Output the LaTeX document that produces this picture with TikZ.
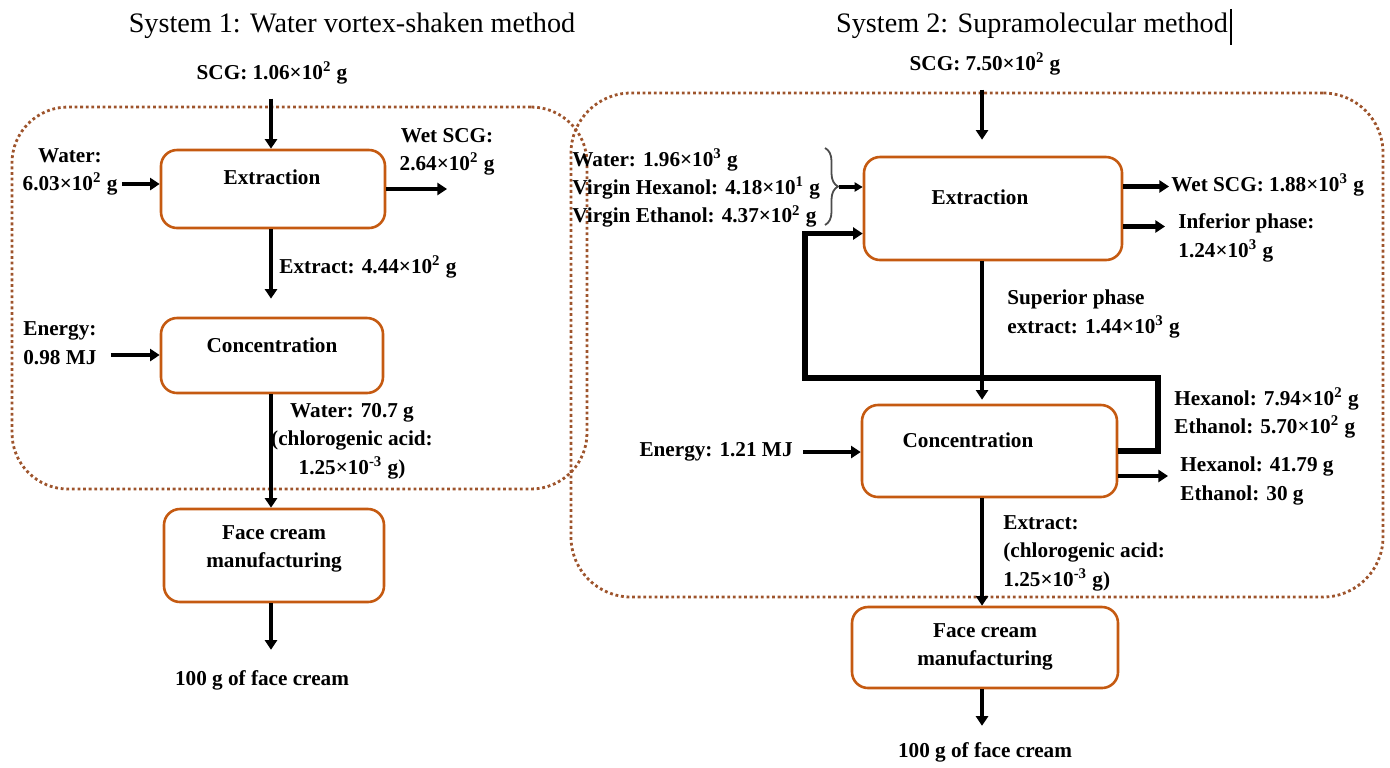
\documentclass[tikz,border=0pt]{standalone}
\usepackage{fontspec}
\setmainfont{Liberation Serif}
\usetikzlibrary{arrows.meta,fit,calc,decorations.pathreplacing}
\definecolor{procor}{RGB}{197,90,17}
\definecolor{dotbr}{RGB}{158,84,44}
\begin{document}
\begin{tikzpicture}[x=0.5pt,y=-0.5pt,
 lab/.style={font=\bfseries\fontsize{10.6}{14.2}\selectfont, inner sep=0pt},
 ttl/.style={font=\fontsize{14.1}{16}\selectfont, inner sep=0pt},
 proc/.style={draw=procor, line width=1.3pt, rounded corners=8pt, inner sep=0pt},
 sys/.style={draw=dotbr, line width=1.4pt, dash pattern=on 1.4pt off 1.4pt, inner sep=0pt},
 flow/.style={line width=2.4pt, -{Triangle[length=4.8pt,width=6pt]}},
 thinflow/.style={line width=1.6pt, -{Triangle[length=4pt,width=4.5pt]}},
 loopline/.style={line width=2.6pt, -{Triangle[length=4.8pt,width=6pt]}},
 bracestyle/.style={draw=gray!60!black, line width=0.9pt, decorate, decoration={brace, amplitude=6.5pt}},
]
\useasboundingbox (0,0) rectangle (1390,767);

% ---------- System 1 ----------
\node[ttl] (title1) at (352,26) {System 1: Water vortex-shaken method};
\node[lab] (scg1) at (272,73) {SCG: 1.06×10\textsuperscript{2} g};
\node[sys, rounded corners=28pt, fit={(12,107)(587,489)}] (sys1) {};
\node[proc, fit={(161,150)(385,228)}] (ext1) {};
\node[lab] (ext1t) at (272,177) {Extraction};
\node[lab, align=center] (water1) at (70,172) {Water:\\6.03×10\textsuperscript{2} g};
\node[lab, align=center] (wet1) at (447,152) {Wet SCG:\\2.64×10\textsuperscript{2} g};
\node[proc, fit={(161,318)(383,393)}] (con1) {};
\node[lab] (con1t) at (272,345) {Concentration};
\node[lab] (extr1) at (368,267) {Extract: 4.44×10\textsuperscript{2} g};
\node[lab, align=left, anchor=west] (en1) at (23,343) {Energy:\\0.98 MJ};
\node[lab, align=center] (wat2) at (352,441) {Water: 70.7 g\\(chlorogenic acid:\\1.25×10\textsuperscript{-3} g)};
\node[proc, fit={(164,509)(384,602)}] (fc1) {};
\node[lab, align=center] (fc1t) at (274,549) {Face cream\\manufacturing};
\node[lab] (out1) at (262,680) {100 g of face cream};

\coordinate (ax1) at (271,0);
\draw[flow] ([yshift=-7pt]scg1.south -| ax1) -- (ext1.north -| ax1);
\coordinate (w1) at ([shift={(2pt,-6pt)}]water1.east);
\draw[flow] (w1) -- (w1 -| ext1.west);
\draw[flow] (ext1.east) -- (ext1.east -| wet1);
\draw[flow, shorten >=9pt] (ext1.south -| ax1) -- (con1.north -| ax1);
\coordinate (e1) at ([shift={(7pt,-6pt)}]en1.east);
\draw[flow] (e1) -- (e1 -| con1.west);
\draw[flow] (con1.south -| ax1) -- (fc1.north -| ax1);
\draw[flow] (fc1.south -| ax1) -- ([yshift=10pt]out1.north -| ax1);

% ---------- System 2 ----------
\node[ttl] (title2) at (1032,26) {System 2: Supramolecular method};
\draw[line width=0.8pt] ([shift={(1.5pt,2pt)}]title2.north east) -- ([shift={(1.5pt,-3pt)}]title2.south east);
\node[lab] (scg2) at (985,64) {SCG: 7.50×10\textsuperscript{2} g};
\node[sys, rounded corners=30pt, fit={(571,93)(1383,597)}] (sys2) {};
\node[proc, fit={(864,157)(1122,260)}] (ext2) {};
\node[lab] (ext2t) at (980,197) {Extraction};
\node[lab, align=left, anchor=west] (in2) at (572,188) {Water: 1.96×10\textsuperscript{3} g\\Virgin Hexanol: 4.18×10\textsuperscript{1} g\\Virgin Ethanol: 4.37×10\textsuperscript{2} g};
\coordinate (brtop) at (825,148);
\coordinate (brbot) at (825,225);
\draw[bracestyle] (brtop) -- (brbot);
\coordinate (br) at (839,187);
\draw[thinflow] (br) -- (br -| ext2.west);

\node[proc, fit={(862,405)(1117,497)}] (con2) {};
\node[lab] (con2t) at (968,440) {Concentration};
\node[lab, anchor=west] (wet2) at (1171,185) {Wet SCG: 1.88×10\textsuperscript{3} g};
\node[lab, anchor=west, align=left] (inf2) at (1178,238) {Inferior phase:\\1.24×10\textsuperscript{3} g};
\node[lab, anchor=west, align=left] (sup2) at (1007,314) {Superior phase\\extract: 1.44×10\textsuperscript{3} g};
\node[lab, anchor=east] (en2) at (793,452) {Energy: 1.21 MJ};
\node[lab, anchor=west, align=left] (rec2) at (1174,413) {Hexanol: 7.94×10\textsuperscript{2} g\\Ethanol: 5.70×10\textsuperscript{2} g};
\node[lab, anchor=west, align=left] (los2) at (1180,481) {Hexanol: 41.79 g\\Ethanol: 30 g};
\node[lab, anchor=west, align=left] (ex2) at (1003,553) {Extract:\\(chlorogenic acid:\\1.25×10\textsuperscript{-3} g)};
\node[proc, fit={(852,607)(1118,688)}] (fc2) {};
\node[lab, align=center] (fc2t) at (985,647) {Face cream\\manufacturing};
\node[lab] (out2) at (985,752) {100 g of face cream};

\coordinate (ax2) at (982,0);
\draw[flow] ([yshift=-7pt]scg2.south -| ax2) -- ([yshift=8pt]ext2.north -| ax2);
\coordinate (wo) at ([yshift=11pt]ext2.east);
\draw[flow, shorten >=1pt] (wo) -- (wo -| wet2.west);
\coordinate (io) at ([yshift=-9pt]ext2.east);
\draw[flow, shorten >=3pt] (io) -- (io -| wet2.west);
\draw[flow, shorten >=2pt] (ext2.south -| ax2) -- (con2.north -| ax2);
\coordinate (r1) at (1158,378);
\coordinate (r2) at (805,378);
\coordinate (rin) at ([yshift=-12.5pt]ext2.west);
\draw[loopline] (con2.east) -| (r1) -- (r2) |- (rin);
\draw[flow] ([xshift=5pt]en2.east) -- (en2.east -| con2.west);
\coordinate (co) at ([yshift=-12.5pt]con2.east);
\draw[flow, shorten >=3pt] (co) -- (co -| rec2.west);
\draw[flow] (con2.south -| ax2) -- (fc2.north -| ax2);
\draw[flow] (fc2.south -| ax2) -- ([yshift=8pt]out2.north -| ax2);
\end{tikzpicture}
\end{document}
